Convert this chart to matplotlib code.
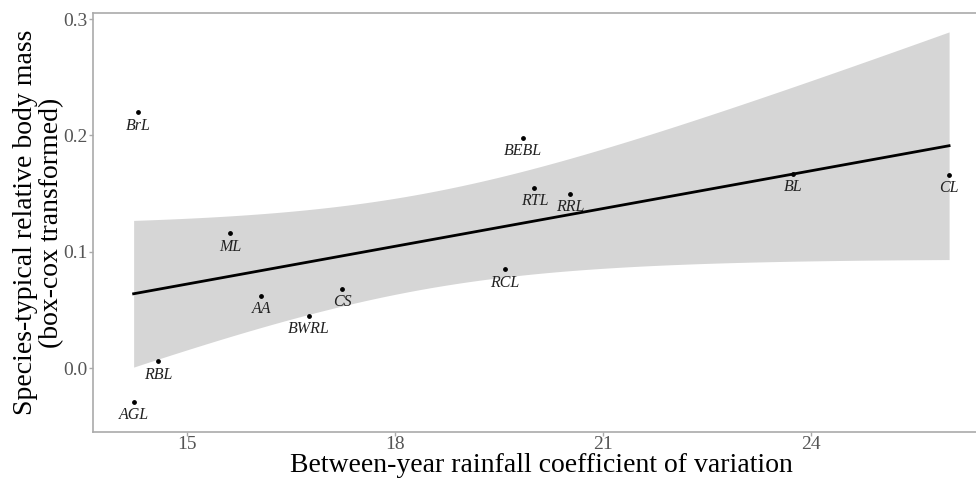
import numpy as np
import matplotlib
matplotlib.use("Agg")
import matplotlib.pyplot as plt

plt.rcParams['font.family'] = ['Liberation Serif', 'DejaVu Serif']

# species-typical relative body mass vs rainfall CV
species = ["BrL", "ML", "AA", "CS", "BWRL", "RBL", "AGL",
           "BEBL", "RTL", "RRL", "RCL", "BL", "CL"]
rain_cv = [14.30, 15.62, 16.07, 17.24, 16.76, 14.58, 14.23,
           19.85, 20.01, 20.53, 19.58, 23.74, 25.99]
body_mass = [0.220, 0.116, 0.062, 0.068, 0.045, 0.006, -0.029,
             0.198, 0.155, 0.150, 0.085, 0.167, 0.166]

x = np.array(rain_cv)
y = np.array(body_mass)

# linear fit with 95% confidence band (like geom_smooth(method="lm"))
n = len(x)
X = np.column_stack([np.ones(n), x])
beta, res, _, _ = np.linalg.lstsq(X, y, rcond=None)
resid = y - X @ beta
s2 = resid @ resid / (n - 2)
XtX_inv = np.linalg.inv(X.T @ X)
t_crit = 2.201  # t(0.975, df=11)

xs = np.linspace(x.min(), x.max(), 100)
Xs = np.column_stack([np.ones_like(xs), xs])
fit = Xs @ beta
se = np.sqrt(s2 * np.einsum('ij,jk,ik->i', Xs, XtX_inv, Xs))
lo = fit - t_crit * se
hi = fit + t_crit * se

fig = plt.figure(figsize=(9.76, 4.79), dpi=100)
ax = fig.add_axes([93/976, 1-432/479, (990-93)/976, (432-13)/479])

ax.fill_between(xs, lo, hi, color="#d6d6d6", lw=0, zorder=1)
ax.plot(xs, fit, color="black", lw=2, zorder=2)
ax.scatter(x, y, s=6, color="black", zorder=3)
for name, xi, yi in zip(species, x, y):
    ax.annotate(name, (xi, yi), xytext=(0, -4), textcoords="offset points",
                ha="center", va="top", style="italic", fontsize=11.5,
                color="#222222", zorder=4)

ax.set_xlim(13.644, 26.58)
ax.set_ylim(-0.0550, 0.3052)
ax.set_xticks([15, 18, 21, 24])
ax.set_yticks([0.0, 0.1, 0.2, 0.3])
ax.set_yticklabels(["0.0", "0.1", "0.2", "0.3"])

for side in ["left", "bottom", "top", "right"]:
    ax.spines[side].set_color("#aaaaaa")
    ax.spines[side].set_linewidth(1.2)
ax.tick_params(colors="#aaaaaa", labelcolor="#555555", labelsize=14,
               length=3, width=1, pad=1)
ax.tick_params(axis="x", pad=0)

ax.set_xlabel("Between-year rainfall coefficient of variation",
              fontsize=20, labelpad=0)
ax.set_ylabel("Species-typical relative body mass\n(box-cox transformed)",
              fontsize=20, linespacing=1.05)
ax.yaxis.set_label_coords(-29/897, 0.5)

fig.savefig("out.png", dpi=100)
